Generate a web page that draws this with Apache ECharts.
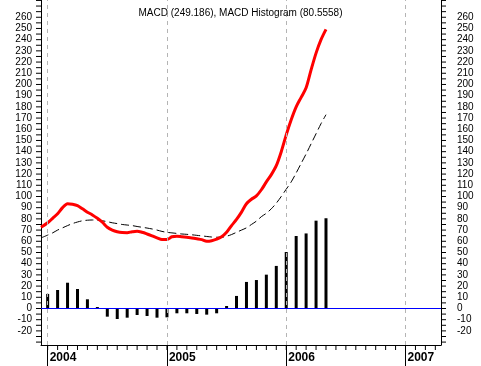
<!DOCTYPE html>
<html><head><meta charset="utf-8">
<script src="https://cdn.jsdelivr.net/npm/echarts@6/dist/echarts.min.js"></script>
<style>html,body{margin:0;padding:0;background:#fff;}#c{width:481px;height:366px;}</style>
</head><body><div id="c"></div>
<script>
// x positions in months since Jan 2004
const lineX = [-0.67, 0, 0.5, 1, 1.5, 2, 2.5, 3, 3.5, 4, 4.5, 5, 5.5, 6, 6.5, 7, 7.5, 8, 8.5, 9, 9.5, 10, 10.5, 11, 11.5, 12, 12.5, 13, 13.5, 14, 14.5, 15, 15.5, 16, 16.5, 17, 17.5, 18, 18.5, 19, 19.5, 20, 20.5, 21, 21.5, 22, 22.5, 23, 23.5, 24, 24.5, 25, 25.5, 26, 26.5, 27, 27.5, 28];
const macd = [72.5, 76.5, 80.5, 84.5, 90, 93.5, 93, 91.8, 89, 86, 83.5, 80.5, 77, 72.5, 70, 68.5, 67.8, 67.7, 68.5, 69, 68, 66.5, 64.8, 63, 61.5, 61.5, 64, 64.5, 64, 63.5, 63, 62.3, 61.5, 60, 60.5, 62, 64, 68, 74, 79.5, 86, 93.5, 97.5, 100.5, 106, 113, 119.5, 127.5, 140, 155, 168.5, 180, 188.5, 197, 213, 228, 240, 249.186];
const signal = [63, 65.5, 67.5, 70, 72, 74, 75.8, 77.2, 78.3, 78.8, 79, 78.8, 78.3, 77.5, 76.5, 75.8, 75, 74.5, 74, 73.2, 72.5, 71.8, 71, 70, 68.8, 68, 67.5, 67, 66.5, 66.2, 65.8, 65.3, 64.8, 64.3, 63.8, 63.6, 63.6, 64.5, 66, 68, 70, 72, 75, 78, 82, 85, 89, 94, 100, 106.5, 113, 121, 129.5, 138, 147, 156, 165, 173];
const histMonths = [0, 1, 2, 3, 4, 5, 6, 7, 8, 9, 10, 11, 12, 13, 14, 15, 16, 17, 18, 19, 20, 21, 22, 23, 24, 25, 26, 27, 28];
const hist = [13, 16.5, 23, 17.4, 8.2, 1.3, -7.3, -9.4, -8.2, -5.8, -6.7, -8.2, -7.9, -4.3, -4.3, -4.9, -5.5, -4.3, 2.2, 11.2, 23.7, 25.4, 30.2, 38, 50.4, 64.7, 67, 78.4, 80.5558];
const yearStarts = [0, 12, 24, 36];
const yearLabels = ['2004', '2005', '2006', '2007'];
const yLabelValues = [-20, -10, 0, 10, 20, 30, 40, 50, 60, 70, 80, 90, 100, 110, 120, 130, 140, 150, 160, 170, 180, 190, 200, 210, 220, 230, 240, 250, 260];
const titleText = 'MACD (249.186), MACD Histogram (80.5558)';

const monthTicks = [];
for (let m = 0; m <= 39; m++) monthTicks.push(m);
const yTicks = [];
for (let v = -30; v <= 275; v += 5) yTicks.push(v);

const XMIN = -0.67, XMAX = 39.57, YMIN = -32.6, YMAX = 275.4;
const FONT = 'Liberation Sans, Arial, sans-serif';

const chart = echarts.init(document.getElementById('c'), null, {renderer: 'canvas'});
const yLabelAxis = (pos, margin) => ({
  type: 'value', min: YMIN, max: YMAX, position: pos,
  axisLine: {show: true, onZero: false, lineStyle: {color: '#000'}},
  axisTick: {show: false},
  axisLabel: {show: true, customValues: yLabelValues, margin: margin, fontSize: 10, color: '#000', fontFamily: FONT},
  splitLine: {show: false}
});
// tick marks drawn as tiny rect symbols placed through the axes' scales
const tickSeries = (data, size, offset) => ({
  type: 'scatter', xAxisIndex: 0, yAxisIndex: 0, silent: true, clip: false, z: 10,
  symbol: 'rect', symbolSize: size, symbolOffset: offset,
  itemStyle: {color: '#000', opacity: 1}, emphasis: {disabled: true},
  data: data
});
chart.setOption({
  animation: false,
  backgroundColor: '#fff',
  tooltip: {show: false},
  title: {text: titleText, left: 'center', top: 3, textStyle: {fontSize: 10, fontWeight: 'normal', color: '#000', fontFamily: FONT}},
  grid: {left: 41, right: 40, top: 0, bottom: 21},
  xAxis: [
    {type: 'value', min: XMIN, max: XMAX, position: 'bottom',
     axisLine: {show: true, onZero: false, lineStyle: {color: '#000'}},
     axisTick: {show: false}, axisLabel: {show: false}, splitLine: {show: false}},
    {type: 'value', min: XMIN, max: XMAX, position: 'bottom',
     axisLine: {show: false, onZero: false},
     axisTick: {show: true, customValues: yearStarts, length: 21, lineStyle: {color: '#000'}},
     axisLabel: {show: true, customValues: yearStarts, formatter: v => yearLabels[yearStarts.indexOf(v)] || '',
       align: 'left', margin: 7, padding: [0, 0, 0, 2], fontSize: 12, fontWeight: 'bold', color: '#000', fontFamily: FONT},
     splitLine: {show: false}}
  ],
  yAxis: [yLabelAxis('left', 9), yLabelAxis('right', 16)],
  series: [
    {type: 'bar', xAxisIndex: 0, yAxisIndex: 0, barWidth: 3,
     data: histMonths.map((m, i) => [m, hist[i]]),
     itemStyle: {color: '#000'},
     markLine: {silent: true, symbol: 'none', label: {show: false},
       data: [{yAxis: 0, lineStyle: {color: '#0000ff', type: 'solid', width: 1}}]
         .concat(yearStarts.map(x => ({xAxis: x, lineStyle: {color: '#b4b4b4', type: [4, 4], width: 1}})))}},
    {type: 'line', xAxisIndex: 0, yAxisIndex: 0, showSymbol: false, smooth: 0.3,
     data: lineX.map((x, i) => [x, signal[i]]),
     lineStyle: {color: '#000', width: 1, type: [8, 4]}},
    {type: 'line', xAxisIndex: 0, yAxisIndex: 0, showSymbol: false, smooth: 0.3,
     data: lineX.map((x, i) => [x, macd[i]]),
     lineStyle: {color: '#ff0000', width: 3}},
    tickSeries(monthTicks.map(m => [m, YMIN]), [1, 5], [0, 2.5]),
    tickSeries(yTicks.map(v => [XMIN, v]), [5, 1], [-2.5, 0]),
    tickSeries(yTicks.map(v => [XMAX, v]), [5, 1], [2.5, 0])
  ]
});
</script></body></html>
